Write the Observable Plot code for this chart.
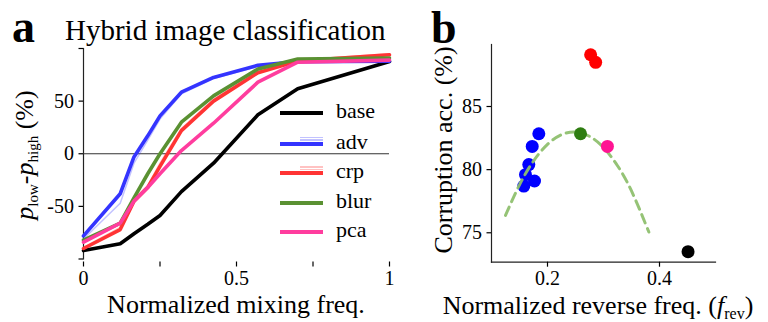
<!DOCTYPE html>
<html>
<head>
<meta charset="utf-8">
<script src="https://cdn.jsdelivr.net/npm/d3@7"></script>
<script src="https://cdn.jsdelivr.net/npm/@observablehq/plot@0.6"></script>
<style>
  html, body { margin: 0; padding: 0; background: #fff; }
  #root { position: relative; width: 768px; height: 322px; background: #fff; overflow: hidden; font-family: "Liberation Serif", serif; }
  #root svg { position: absolute; left: 0; top: 0; }
  .leg { position: absolute; font-family: "Liberation Serif", serif; font-size: 22px; color: #000; line-height: 1; white-space: nowrap; }
</style>
</head>
<body>
<div id="root"></div>
<script>
// ---------- Panel a data ----------
const mixFreq = [0, 0.12, 0.165, 0.21, 0.25, 0.32, 0.425, 0.57, 0.7, 1];
const base = [-92, -85.5, -76, -67, -58.6, -36, -9, 37, 61.7, 87.6];
const adv  = [-78, -38, -3, 17, 36, 58.5, 72.5, 84, 87.5, 88];
const crp  = [-90, -72, -45, -32, -12, 22, 50, 77, 88, 94];
const blur = [-82, -66, -42, -19, 0, 30, 55, 80.5, 90, 91];
const pca  = [-84, -66, -45, -32, -19, 3, 29, 68, 87, 89];
const advRun = [-81, -47, -9, 13, 33, 57, 71.5, 83, 87, 87.5];
const crpRun = [-89, -70, -43, -30, -9, 24, 52, 79, 89, 95];
const methods = ["base", "adv", "crp", "blur", "pca"];
const lineColors = ["#000000", "#3434ff", "#ff3434", "#5a9132", "#ff3d9e"];
const xTicksA = [0, 0.25, 0.5, 0.75, 1];
const xLabelsA = ["0", "", "0.5", "", "1"];
const yTicksA = [-100, -50, 0, 50, 100];
const yLabelsA = ["", "-50", "0", "50", ""];

// ---------- Panel b data ----------
const ptMethod = ["crp", "crp", "blur", "pca", "adv", "adv", "adv", "adv", "adv", "adv", "base"];
const ptFreq = [0.277, 0.286, 0.259, 0.307, 0.1845, 0.1727, 0.1666, 0.1607, 0.1768, 0.1577, 0.451];
const ptAcc  = [89.1, 88.5, 82.84, 81.84, 82.84, 81.84, 80.4, 79.6, 79.1, 78.7, 73.5];
const dotColors = ["#000000", "#0000ff", "#ff0000", "#2e7d10", "#ff1493"];
const fitFreq = [0.125, 0.15, 0.175, 0.2, 0.225, 0.25, 0.275, 0.3, 0.325, 0.35, 0.381];
const fitAcc  = [76.38, 78.8, 80.68, 82.0, 82.77, 82.98, 82.64, 81.75, 80.31, 78.31, 75.06];
const xTicksB = [0.2, 0.4];
const yTicksB = [75, 80, 85];

// ---------- build tables ----------
const seriesVals = {base, adv, crp, blur, pca};
const linesData = methods.flatMap(m => mixFreq.map((x, i) => ({method: m, x, y: seriesVals[m][i]})));
const runsData = [
  ...mixFreq.map((x, i) => ({method: "adv", x, y: advRun[i]})),
  ...mixFreq.map((x, i) => ({method: "crp", x, y: crpRun[i]}))
];
const pts = ptMethod.map((m, i) => ({method: m, x: ptFreq[i], y: ptAcc[i]}));
const fit = fitFreq.map((x, i) => ({x, y: fitAcc[i]}));

const root = document.getElementById("root");
const FONT = "Liberation Serif, serif";
const baseStyle = {background: "transparent", fontFamily: FONT, fontSize: "20px", color: "#000", overflow: "visible"};

// ---------- Panel a ----------
const plotA = Plot.plot({
  width: 768, height: 322,
  marginLeft: 83, marginRight: 379, marginTop: 48, marginBottom: 63.5,
  style: baseStyle,
  x: {domain: [0, 1]},
  y: {domain: [-100, 100]},
  color: {domain: methods, range: lineColors},
  marks: [
    Plot.frame({anchor: "left", stroke: "#222", strokeWidth: 1.2}),
    Plot.axisY({ticks: yTicksA, tickFormat: d => yLabelsA[yTicksA.indexOf(d)], tickSize: 4.5, tickPadding: 5, label: null, strokeWidth: 1.2}),
    Plot.axisX({ticks: xTicksA, tickFormat: d => xLabelsA[xTicksA.indexOf(d)], tickSize: 5, tickPadding: 4, label: null, dy: 3, strokeWidth: 1.2}),
    Plot.ruleY([0], {stroke: "#333", strokeWidth: 1.2}),
    Plot.line(runsData, {x: "x", y: "y", z: "method", stroke: "method", strokeWidth: 1.5, strokeOpacity: 0.3}),
    Plot.line(linesData, {x: "x", y: "y", z: "method", stroke: "method", strokeWidth: 3.6, strokeLinejoin: "miter"})
  ]
});
root.appendChild(plotA);

// ---------- Panel b ----------
const plotB = Plot.plot({
  width: 768, height: 322,
  marginLeft: 491, marginRight: 53, marginTop: 44, marginBottom: 60.3,
  style: baseStyle,
  x: {domain: [0.1, 0.5]},
  y: {domain: [72.67, 89.91]},
  color: {domain: methods, range: dotColors},
  marks: [
    Plot.frame({anchor: "left", stroke: "#222", strokeWidth: 1.2}),
    Plot.frame({anchor: "bottom", stroke: "#222", strokeWidth: 1.2}),
    Plot.axisY({ticks: yTicksB, tickFormat: d => String(d), tickSize: 4.5, tickPadding: 5, label: null, strokeWidth: 1.2}),
    Plot.axisX({ticks: xTicksB, tickFormat: d => String(d), tickSize: 5, tickPadding: 4, label: null, strokeWidth: 1.2}),
    Plot.dot(pts.filter(d => d.method === "adv"), {x: "x", y: "y", fill: "method", r: 6.5}),
    Plot.line(fit, {x: "x", y: "y", curve: "natural", stroke: "#8fc06f", strokeWidth: 3, strokeDasharray: "9,6", strokeOpacity: 0.95}),
    Plot.dot(pts.filter(d => d.method !== "adv"), {x: "x", y: "y", fill: "method", r: 6.5})
  ]
});
root.appendChild(plotB);

// ---------- texts ----------
function addText(svg, attrs, parts) {
  const t = d3.select(svg).append("text").attr("fill", "#000").attr("text-anchor", "start").style("font-family", FONT);
  for (const [k, v] of Object.entries(attrs)) t.attr(k, v);
  for (const p of parts) {
    const s = t.append("tspan").text(p.t);
    if (p.italic) s.style("font-style", "italic");
    if (p.size) s.style("font-size", p.size + "px");
    if (p.dy) s.attr("dy", p.dy);
  }
  return t;
}
addText(plotA, {x: 12, y: 42, "font-size": 46, "font-weight": "bold"}, [{t: "a"}]);
addText(plotA, {x: 65, y: 40, "font-size": 29}, [{t: "Hybrid image classification"}]);
addText(plotA, {x: 236, y: 313, "font-size": 26, "text-anchor": "middle"}, [{t: "Normalized mixing freq."}]);
addText(plotA, {transform: "translate(33,155) rotate(-90)", "font-size": 26, "text-anchor": "middle"}, [
  {t: "p", italic: true}, {t: "low", size: 15, dy: 5}, {t: "-", dy: -5}, {t: "p", italic: true},
  {t: "high", size: 15, dy: 5}, {t: " (%)", dy: -5}
]);
addText(plotB, {x: 431, y: 43, "font-size": 46, "font-weight": "bold"}, [{t: "b"}]);
addText(plotB, {transform: "translate(452,150) rotate(-90)", "font-size": 26, "text-anchor": "middle"}, [{t: "Corruption acc. (%)"}]);
addText(plotB, {x: 598, y: 314, "font-size": 26, "text-anchor": "middle"}, [
  {t: "Normalized reverse freq. ("}, {t: "f", italic: true}, {t: "rev", size: 16, dy: 5}, {t: ")", dy: -5}
]);

// ---------- legend (panel a) ----------
const legY = [113, 143.5, 173, 202.5, 232];
methods.forEach((m, i) => {
  const bar = document.createElement("div");
  bar.style.cssText = `position:absolute;left:280px;top:${legY[i] - 2}px;width:43px;height:4px;background:${lineColors[i]};`;
  root.appendChild(bar);
  if (m === "adv" || m === "crp") {
    for (let k = 0; k < 2; k++) {
      const f = document.createElement("div");
      f.style.cssText = `position:absolute;left:300px;top:${legY[i] - 7 + k * 2.5}px;width:23px;height:1.5px;background:${lineColors[i]};opacity:0.3;`;
      root.appendChild(f);
    }
  }
  const lab = document.createElement("div");
  lab.className = "leg";
  lab.textContent = m;
  lab.style.left = "336px";
  lab.style.top = (legY[i] - 13) + "px";
  root.appendChild(lab);
});
</script>
</body>
</html>
